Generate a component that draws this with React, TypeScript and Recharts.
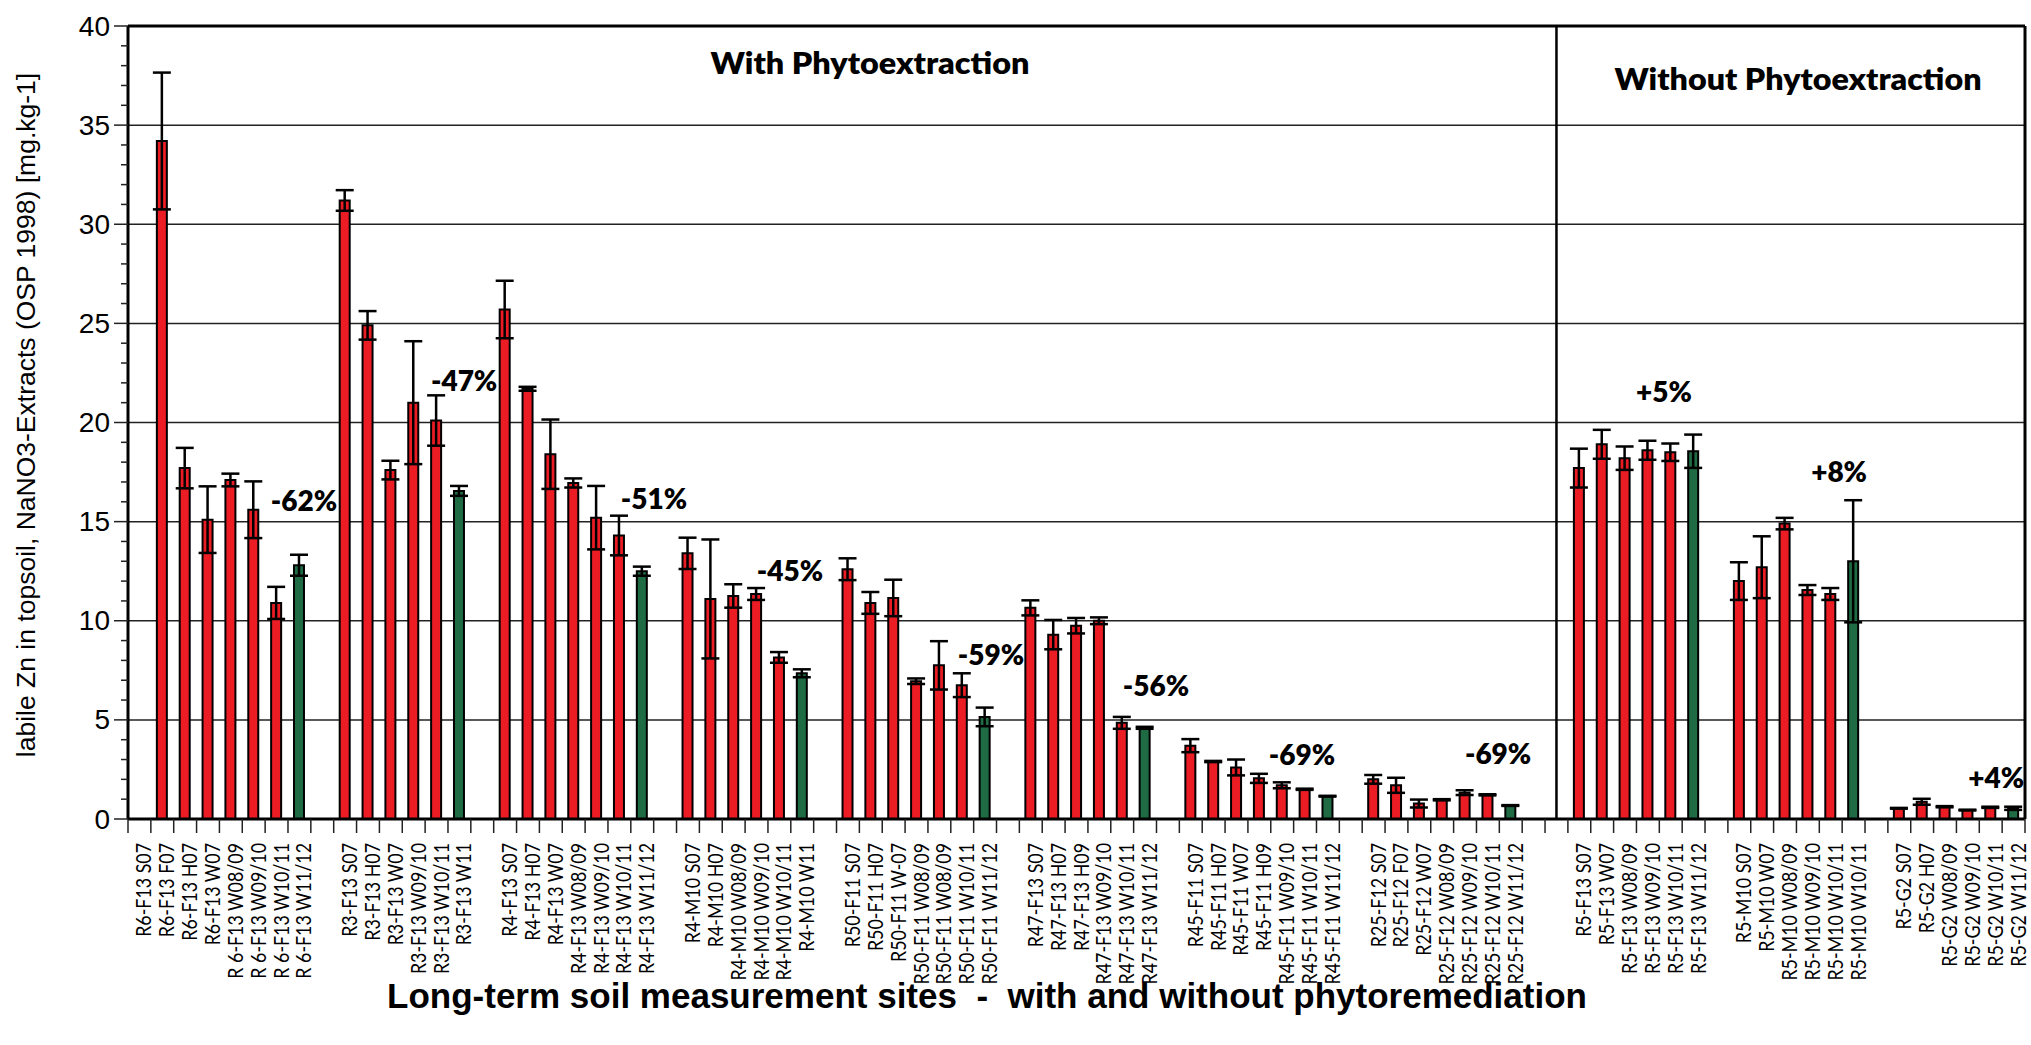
import React from 'react';
import {
  BarChart, Bar, Cell, ErrorBar, XAxis, YAxis, CartesianGrid, ReferenceLine, ReferenceDot,
} from 'recharts';

// Sample labels per site, '' marks an empty spacer slot between sites
const sampleLabels = [
  'R6-F13 S07', 'R6-F13 F07', 'R6-F13 H07', 'R6-F13 W07', 'R 6-F13 W08/09', 'R 6-F13 W09/10', 'R 6-F13 W10/11', 'R 6-F13 W11/12', '',
  'R3-F13 S07', 'R3-F13 H07', 'R3-F13 W07', 'R3-F13 W09/10', 'R3-F13 W10/11', 'R3-F13 W11', '',
  'R4-F13 S07', 'R4-F13 H07', 'R4-F13 W07', 'R4-F13 W08/09', 'R4-F13 W09/10', 'R4-F13 W10/11', 'R4-F13 W11/12', '',
  'R4-M10 S07', 'R4-M10 H07', 'R4-M10 W08/09', 'R4-M10 W09/10', 'R4-M10 W10/11', 'R4-M10 W11', '',
  'R50-F11 S07', 'R50-F11 H07', 'R50-F11 W-07', 'R50-F11 W08/09', 'R50-F11 W08/09', 'R50-F11 W10/11', 'R50-F11 W11/12', '',
  'R47-F13 S07', 'R47-F13 H07', 'R47-F13 H09', 'R47-F13 W09/10', 'R47-F13 W10/11', 'R47-F13 W11/12', '',
  'R45-F11 S07', 'R45-F11 H07', 'R45-F11 W07', 'R45-F11 H09', 'R45-F11 W09/10', 'R45-F11 W10/11', 'R45-F11 W11/12', '',
  'R25-F12 S07', 'R25-F12 F07', 'R25-F12 W07', 'R25-F12 W08/09', 'R25-F12 W09/10', 'R25-F12 W10/11', 'R25-F12 W11/12', '', '',
  'R5-F13 S07', 'R5-F13 W07', 'R5-F13 W08/09', 'R5-F13 W09/10', 'R5-F13 W10/11', 'R5-F13 W11/12', '',
  'R5-M10 S07', 'R5-M10 W07', 'R5-M10 W08/09', 'R5-M10 W09/10', 'R5-M10 W10/11', 'R5-M10 W10/11', '',
  'R5-G2 S07', 'R5-G2 H07', 'R5-G2 W08/09', 'R5-G2 W09/10', 'R5-G2 W10/11', 'R5-G2 W11/12',
];

// labile Zn, mg/kg (mean)
const znMean = [
  null, 34.2, 17.7, 15.1, 17.1, 15.6, 10.9, 12.8, null,
  31.2, 24.9, 17.6, 21.0, 20.1, 16.55, null,
  25.7, 21.7, 18.4, 16.95, 15.2, 14.3, 12.5, null,
  13.4, 11.1, 11.25, 11.35, 8.15, 7.35, null,
  12.6, 10.9, 11.15, 6.95, 7.75, 6.75, 5.15, null,
  10.65, 9.3, 9.75, 10.0, 4.85, 4.6, null,
  3.7, 2.9, 2.6, 2.05, 1.7, 1.5, 1.15, null,
  2.0, 1.7, 0.78, 0.97, 1.33, 1.22, 0.68, null, null,
  17.7, 18.9, 18.2, 18.6, 18.5, 18.55, null,
  12.0, 12.7, 14.9, 11.55, 11.35, 13.0, null,
  0.54, 0.87, 0.62, 0.45, 0.59, 0.54,
];

// standard deviation
const znSd = [
  null, 3.45, 1.02, 1.68, 0.32, 1.43, 0.81, 0.53, null,
  0.52, 0.72, 0.47, 3.1, 1.27, 0.25, null,
  1.45, 0.1, 1.75, 0.23, 1.6, 1.0, 0.23, null,
  0.79, 3.0, 0.59, 0.3, 0.27, 0.2, null,
  0.55, 0.55, 0.92, 0.14, 1.22, 0.6, 0.47, null,
  0.38, 0.74, 0.39, 0.17, 0.3, 0.05, null,
  0.33, 0.03, 0.4, 0.23, 0.15, 0.03, 0.02, null,
  0.22, 0.38, 0.2, 0.03, 0.12, 0.03, 0.02, null, null,
  0.98, 0.73, 0.59, 0.48, 0.44, 0.84, null,
  0.95, 1.56, 0.29, 0.25, 0.3, 3.08, null,
  0.02, 0.15, 0.03, 0.02, 0.03, 0.08,
];

// change between first and last sampling; at = slot position, y = text baseline (mg/kg)
const changeNotes = [
  { text: '-62%', at: 7.24, y: 15.5 },
  { text: '-47%', at: 14.25, y: 21.55 },
  { text: '-51%', at: 22.56, y: 15.6 },
  { text: '-45%', at: 28.51, y: 11.95 },
  { text: '-59%', at: 37.3, y: 7.7 },
  { text: '-56%', at: 44.52, y: 6.15 },
  { text: '-69%', at: 50.91, y: 2.65 },
  { text: '-69%', at: 59.49, y: 2.7 },
  { text: '+5%', at: 66.75, y: 21.0 },
  { text: '+8%', at: 74.41, y: 16.95 },
  { text: '+4%', at: 81.28, y: 1.5 },
];

const yTicks = Array.from({ length: 41 }, (_, i) => i);
const yGrid = [5, 10, 15, 20, 25, 30, 35, 40];

const W = 2031;
const H = 1045;
const MARGIN = { top: 26, right: 6, bottom: 76, left: 68 };
const Y_AXIS_W = 60;
const X_AXIS_H = 150;
const STEP = (W - MARGIN.left - MARGIN.right - Y_AXIS_W) / sampleLabels.length;

const RED = '#ec1c24';
const GREEN = '#1e6b44';

const ids = sampleLabels.map((_, i) => `s${i}`);
const rows = sampleLabels.map((label, i) => ({
  id: ids[i],
  label,
  zn: znMean[i],
  sd: znSd[i],
  // last sampling of each site is drawn green
  last: label !== '' && (i === sampleLabels.length - 1 || sampleLabels[i + 1] === ''),
}));

const SampleTick = (props: any) => {
  const { x, y, payload } = props;
  const i = Number(String(payload.value).slice(1));
  const label = sampleLabels[i];
  const half = STEP / 2;
  const tx = x + 4;
  const ty = y + 24;
  return (
    <g>
      <line x1={x - half} y1={y} x2={x - half} y2={y + 14} stroke="#222" strokeWidth={1.5} />
      {i === sampleLabels.length - 1 && (
        <line x1={x + half} y1={y} x2={x + half} y2={y + 14} stroke="#222" strokeWidth={1.5} />
      )}
      {label && (
        // narrowed along the reading direction, like a condensed face
        <g transform={`translate(${tx} ${ty}) rotate(-90) scale(0.87 1)`}>
          <text
            x={0}
            y={0}
            textAnchor="end"
            dominantBaseline="central"
            fontFamily="Lato, 'Noto Sans', sans-serif"
            fontSize={20.5}
            fill="#000"
          >
            {label}
          </text>
        </g>
      )}
    </g>
  );
};

const ValueTick = (props: any) => {
  const { x, y, payload } = props;
  const v = payload.value as number;
  const major = v % 5 === 0;
  return (
    <g>
      <line x1={x - (major ? 14 : 7)} y1={y} x2={x} y2={y} stroke="#222" strokeWidth={1.5} />
      {major && (
        <text
          x={x - 18}
          y={y}
          textAnchor="end"
          dominantBaseline="central"
          fontFamily="'Liberation Sans', Arial, sans-serif"
          fontSize={28}
          fill="#000"
        >
          {v}
        </text>
      )}
    </g>
  );
};

const noteLabel = (n: { text: string; at: number }, slot: number) => (p: any) => (
  <text
    x={p.viewBox.x + (n.at - slot) * STEP}
    y={p.viewBox.y}
    textAnchor="middle"
    fontFamily="Lato, 'Noto Sans', sans-serif"
    fontWeight={800}
    fontSize={28}
    fill="#000"
  >
    {n.text}
  </text>
);

export default function App() {
  return (
    <div style={{ position: 'absolute', left: 0, top: 0, width: W, height: H, background: '#fff' }}>
      <BarChart width={W} height={H} data={rows} margin={MARGIN}>
        <CartesianGrid horizontal vertical={false} horizontalValues={yGrid} stroke="#222" strokeWidth={1.5} />
        <XAxis
          dataKey="id"
          type="category"
          interval={0}
          height={X_AXIS_H}
          tickSize={0}
          tickMargin={0}
          tickLine={false}
          tick={<SampleTick />}
          axisLine={{ stroke: '#000', strokeWidth: 3 }}
        />
        <YAxis
          type="number"
          domain={[0, 40]}
          ticks={yTicks}
          interval={0}
          width={Y_AXIS_W}
          tickSize={0}
          tickMargin={0}
          tickLine={false}
          tick={<ValueTick />}
          axisLine={{ stroke: '#000', strokeWidth: 3 }}
        />
        <ReferenceLine y={40} stroke="#000" strokeWidth={3} />
        <ReferenceLine x={ids[62]} stroke="#000" strokeWidth={2.5} />
        <ReferenceLine x={ids[ids.length - 1]} position="end" stroke="#000" strokeWidth={3} />
        <Bar dataKey="zn" barSize={10} stroke="#000" strokeWidth={2} isAnimationActive={false}>
          {rows.map((r) => (
            <Cell key={r.id} fill={r.last ? GREEN : RED} />
          ))}
          <ErrorBar dataKey="sd" direction="y" width={9} stroke="#000" strokeWidth={2.5} isAnimationActive={false} />
        </Bar>
        {changeNotes.map((n, k) => {
          const slot = Math.round(n.at);
          return (
            <ReferenceDot
              key={k}
              x={ids[slot]}
              y={n.y}
              r={1}
              fill="none"
              stroke="none"
              label={noteLabel(n, slot)}
            />
          );
        })}
      </BarChart>
      <svg
        width={W}
        height={H}
        style={{ position: 'absolute', left: 0, top: 0, pointerEvents: 'none' }}
      >
        <text
          x={870}
          y={74}
          textAnchor="middle"
          fontFamily="Lato, 'Noto Sans', sans-serif"
          fontWeight={800}
          fontSize={30}
          textLength={319}
          lengthAdjust="spacingAndGlyphs"
        >
          With Phytoextraction
        </text>
        <text
          x={1798}
          y={90}
          textAnchor="middle"
          fontFamily="Lato, 'Noto Sans', sans-serif"
          fontWeight={800}
          fontSize={30}
          textLength={367}
          lengthAdjust="spacingAndGlyphs"
        >
          Without Phytoextraction
        </text>
        <text
          x={26}
          y={415}
          transform="rotate(-90 26 415)"
          textAnchor="middle"
          dominantBaseline="central"
          fontFamily="'Liberation Sans', Arial, sans-serif"
          fontSize={26.5}
        >
          labile Zn in topsoil, NaNO3-Extracts (OSP 1998) [mg.kg-1]
        </text>
        <text
          x={987}
          y={1008}
          textAnchor="middle"
          fontFamily="'Liberation Sans', Arial, sans-serif"
          fontWeight={700}
          fontSize={35}
          xmlSpace="preserve"
        >
          Long-term soil measurement sites  -  with and without phytoremediation
        </text>
      </svg>
    </div>
  );
}
